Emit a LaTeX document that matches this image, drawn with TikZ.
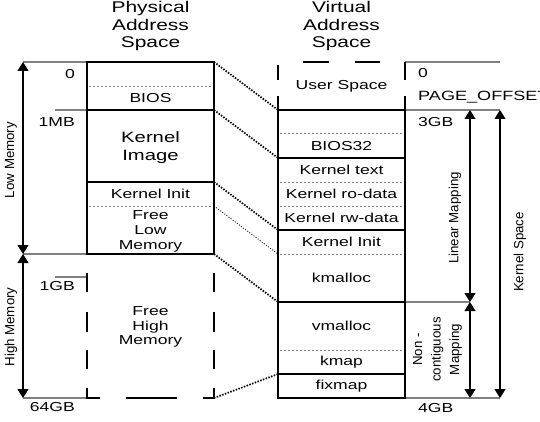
\documentclass[tikz,border=0pt]{standalone}
\usepackage{graphicx}
\usepackage{fontspec}
\setmainfont[FakeStretch=1.35]{Liberation Sans}
\newfontfamily\plainsans{Liberation Sans}
\usetikzlibrary{arrows.meta}
\begin{document}
\begin{tikzpicture}[x=1pt,y=-1pt,
  thick box/.style={line width=1.8pt, line cap=rect},
  dashedbox/.style={line width=1.8pt},
  dotsep/.style={gray, line width=0.8pt, dash pattern=on 2pt off 2pt},
  guide/.style={gray, line width=1.2pt},
  conn/.style={line width=1.7pt, dash pattern=on 1.5pt off 1.4pt},
  thinconn/.style={line width=0.8pt, dash pattern=on 1pt off 1.6pt},
  dim/.style={line width=1.2pt, {Triangle[width=11pt,length=9pt]}-{Triangle[width=11pt,length=9pt]}},
  lbl/.style={font=\fontsize{13}{15}\selectfont, align=center, inner sep=0pt},
  big/.style={font=\fontsize{15.5}{17.5}\selectfont, align=center, inner sep=0pt},
  rot/.style={rotate=90, inner sep=0pt, font=\plainsans\fontsize{13.3}{18.5}\selectfont, align=center}
]
\clip (0,0) rectangle (540,422);

% ---------- coordinates ----------
\coordinate (p62) at (214,62);
\coordinate (p110) at (214,110);
\coordinate (p182) at (214,182);
\coordinate (p206) at (214,206);
\coordinate (p254) at (214,254);
\coordinate (p398) at (214,398);
\coordinate (v110) at (278,110);
\coordinate (v158) at (278,158);
\coordinate (v230) at (278,230);
\coordinate (v254) at (278,254);
\coordinate (v302) at (278,302);
\coordinate (v374) at (278,374);

% ---------- guide lines ----------
\draw[guide] (23,62) -- (87,62);
\draw[guide] (55,110) -- (87,110);
\draw[guide] (23,254) -- (87,254);
\draw[guide] (55,277) -- (87,277);
\draw[guide] (23,398) -- (87,398);
\draw[guide] (405,62) -- (500,62);
\draw[guide] (405,110) -- (500,110);
\draw[guide] (405,302) -- (470,302);
\draw[guide] (405,398) -- (500,398);

% ---------- physical box ----------
\draw[thick box] (87,254) -- (87,62) -- (214,62) -- (214,254);
\draw[thick box] (87,110) -- (214,110);
\draw[thick box] (87,182) -- (214,182);
\draw[thick box] (87,254) -- (214,254);
\draw[dotsep] (89,86) -- (212,86);
\draw[dotsep] (89,206) -- (212,206);
% high memory dashed outline
\foreach \a/\b in {273/292, 312/332, 350/369} {
  \draw[dashedbox] (87,\a) -- (87,\b);
  \draw[dashedbox] (214,\a) -- (214,\b);
}
\draw[dashedbox] (87,388) -- (87,398) -- (100,398);
\draw[dashedbox] (214,388) -- (214,398) -- (203,398);
\draw[dashedbox] (126,398) -- (177,398);

% ---------- virtual box ----------
\draw[dashedbox] (278,65) -- (278,80);
\draw[dashedbox] (405,62) -- (405,80);
\draw[dashedbox] (303,62) -- (329,62);
\draw[dashedbox] (355,62) -- (380,62);
\draw[thick box] (278,97) -- (278,398) -- (405,398) -- (405,97);
\foreach \y in {110,158,230,302,374} {
  \draw[thick box] (278,\y) -- (405,\y);
}
\foreach \y in {133,182,206,254,350} {
  \draw[dotsep] (280,\y) -- (403,\y);
}

% ---------- connectors ----------
\draw[conn] (p62) -- (v110);
\draw[conn] (p110) -- (v158);
\draw[conn] (p182) -- (v230);
\draw[thinconn] (p206) -- (v254);
\draw[conn] (p254) -- (v302);
\draw[conn] (p398) -- (v374);

% ---------- dimension arrows ----------
\draw[dim] (23,62) -- (23,254);
\draw[dim] (23,254) -- (23,398);
\draw[dim] (470,110) -- (470,302);
\draw[dim] (470,302) -- (470,398);
\draw[dim] (500,110) -- (500,398);

% ---------- texts ----------
\node[big] (t1) at (150.5,26) {Physical\\Address\\Space};
\node[big] (t2) at (341.5,26) {Virtual\\Address\\Space};

\node[lbl, anchor=east] (a0) at (75,74) {0};
\node[lbl, anchor=east] (a1) at (75,122) {1MB};
\node[lbl, anchor=east] (a2) at (75,286) {1GB};
\node[lbl, anchor=east] (a3) at (75,407) {64GB};

\node[lbl] (bios) at (150.5,98) {BIOS};
\node[big, font=\fontsize{15}{18}\selectfont] (kimg) at (150.5,148) {Kernel\\Image};
\node[lbl] (kinit) at (150.5,194) {Kernel Init};
\node[lbl] (flow) at (150.5,231) {Free\\Low\\Memory};
\node[lbl, font=\fontsize{13}{14.5}\selectfont] (fhigh) at (150.5,327) {Free\\High\\Memory};

\node[lbl] (us) at (341.5,86) {User Space};
\node[lbl] (b32) at (341.5,146) {BIOS32};
\node[lbl] (ktext) at (341.5,170) {Kernel text};
\node[lbl] (kro) at (341.5,194) {Kernel ro-data};
\node[lbl] (krw) at (341.5,218) {Kernel rw-data};
\node[lbl] (kin2) at (341.5,242) {Kernel Init};
\node[lbl] (kmal) at (341.5,278) {kmalloc};
\node[lbl] (vmal) at (341.5,326) {vmalloc};
\node[lbl] (kmap) at (341.5,362) {kmap};
\node[lbl] (fix) at (341.5,386) {fixmap};

\node[lbl, anchor=west] (r0) at (418,73) {0};
\node[lbl, anchor=west, font=\fontsize{13.4}{15}\selectfont] (rpo) at (418,97) {PAGE\_OFFSET};
\node[lbl, anchor=west] (r3) at (418,122) {3GB};
\node[lbl, anchor=west] (r4) at (418,408) {4GB};

\node[rot] (lowm) at (11,160) {Low Memory};
\node[rot] (highm) at (11,327) {High Memory};
\node[rot] (linm) at (455,218) {Linear Mapping};
\node[rot] (ksp) at (520,252) {Kernel Space};
\node[rot] (ncm) at (437.5,349.5) {Non -\\contiguous\\Mapping};
\end{tikzpicture}
\end{document}
